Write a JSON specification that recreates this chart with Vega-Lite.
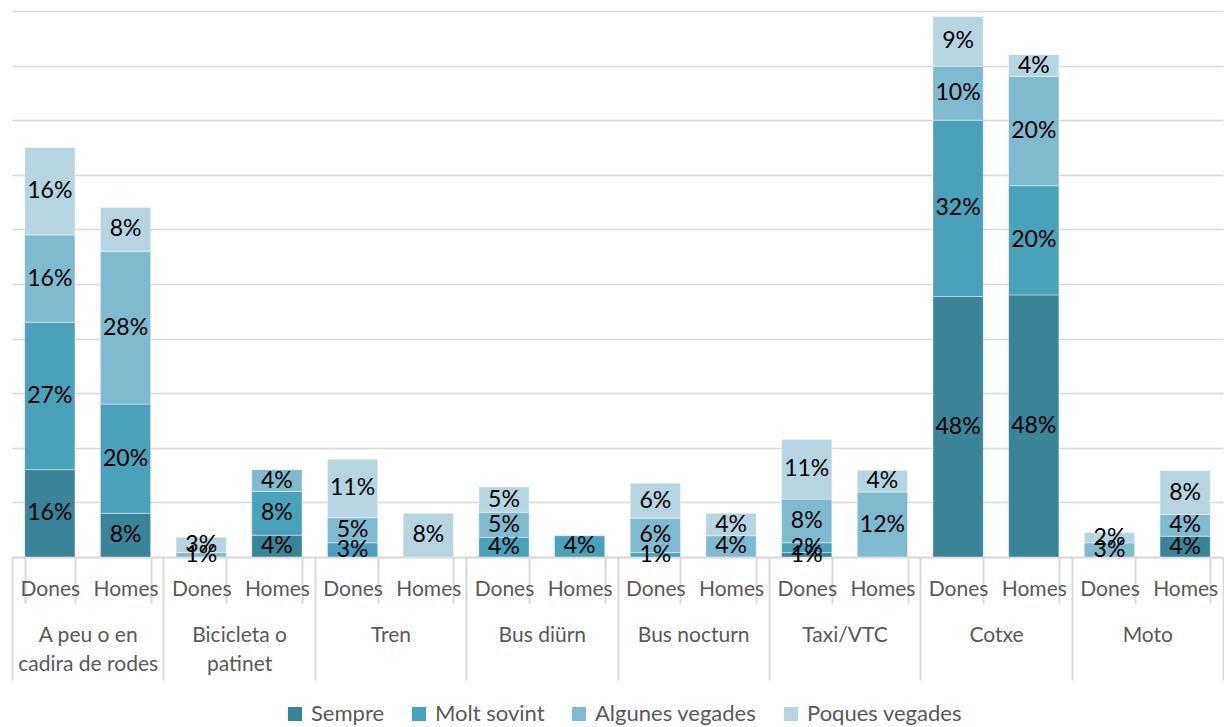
{
  "$schema": "https://vega.github.io/schema/vega-lite/v6.json",
  "width": 1211,
  "height": 546,
  "autosize": {"type": "none"},
  "padding": {"left": 12, "top": 11, "right": 1, "bottom": 170},
  "config": {"view": {"stroke": null}, "font": "Lato"},
  "data": {
    "values": [
      {"c": "A peu o en cadira de rodes", "g": "Dones", "s": "Sempre", "v": 0.16},
      {"c": "A peu o en cadira de rodes", "g": "Dones", "s": "Molt sovint", "v": 0.27},
      {"c": "A peu o en cadira de rodes", "g": "Dones", "s": "Algunes vegades", "v": 0.16},
      {"c": "A peu o en cadira de rodes", "g": "Dones", "s": "Poques vegades", "v": 0.16},
      {"c": "A peu o en cadira de rodes", "g": "Homes", "s": "Sempre", "v": 0.08},
      {"c": "A peu o en cadira de rodes", "g": "Homes", "s": "Molt sovint", "v": 0.20},
      {"c": "A peu o en cadira de rodes", "g": "Homes", "s": "Algunes vegades", "v": 0.28},
      {"c": "A peu o en cadira de rodes", "g": "Homes", "s": "Poques vegades", "v": 0.08},
      {"c": "Bicicleta o patinet", "g": "Dones", "s": "Algunes vegades", "v": 0.008},
      {"c": "Bicicleta o patinet", "g": "Dones", "s": "Poques vegades", "v": 0.028},
      {"c": "Bicicleta o patinet", "g": "Homes", "s": "Sempre", "v": 0.04},
      {"c": "Bicicleta o patinet", "g": "Homes", "s": "Molt sovint", "v": 0.08},
      {"c": "Bicicleta o patinet", "g": "Homes", "s": "Algunes vegades", "v": 0.04},
      {"c": "Tren", "g": "Dones", "s": "Molt sovint", "v": 0.026},
      {"c": "Tren", "g": "Dones", "s": "Algunes vegades", "v": 0.046},
      {"c": "Tren", "g": "Dones", "s": "Poques vegades", "v": 0.107},
      {"c": "Tren", "g": "Homes", "s": "Poques vegades", "v": 0.08},
      {"c": "Bus diürn", "g": "Dones", "s": "Molt sovint", "v": 0.036},
      {"c": "Bus diürn", "g": "Dones", "s": "Algunes vegades", "v": 0.046},
      {"c": "Bus diürn", "g": "Dones", "s": "Poques vegades", "v": 0.046},
      {"c": "Bus diürn", "g": "Homes", "s": "Molt sovint", "v": 0.039},
      {"c": "Bus nocturn", "g": "Dones", "s": "Molt sovint", "v": 0.008},
      {"c": "Bus nocturn", "g": "Dones", "s": "Algunes vegades", "v": 0.063},
      {"c": "Bus nocturn", "g": "Dones", "s": "Poques vegades", "v": 0.064},
      {"c": "Bus nocturn", "g": "Homes", "s": "Algunes vegades", "v": 0.039},
      {"c": "Bus nocturn", "g": "Homes", "s": "Poques vegades", "v": 0.041},
      {"c": "Taxi/VTC", "g": "Dones", "s": "Sempre", "v": 0.008},
      {"c": "Taxi/VTC", "g": "Dones", "s": "Molt sovint", "v": 0.018},
      {"c": "Taxi/VTC", "g": "Dones", "s": "Algunes vegades", "v": 0.08},
      {"c": "Taxi/VTC", "g": "Dones", "s": "Poques vegades", "v": 0.109},
      {"c": "Taxi/VTC", "g": "Homes", "s": "Algunes vegades", "v": 0.119},
      {"c": "Taxi/VTC", "g": "Homes", "s": "Poques vegades", "v": 0.04},
      {"c": "Cotxe", "g": "Dones", "s": "Sempre", "v": 0.477},
      {"c": "Cotxe", "g": "Dones", "s": "Molt sovint", "v": 0.323},
      {"c": "Cotxe", "g": "Dones", "s": "Algunes vegades", "v": 0.099},
      {"c": "Cotxe", "g": "Dones", "s": "Poques vegades", "v": 0.091},
      {"c": "Cotxe", "g": "Homes", "s": "Sempre", "v": 0.48},
      {"c": "Cotxe", "g": "Homes", "s": "Molt sovint", "v": 0.20},
      {"c": "Cotxe", "g": "Homes", "s": "Algunes vegades", "v": 0.20},
      {"c": "Cotxe", "g": "Homes", "s": "Poques vegades", "v": 0.04},
      {"c": "Moto", "g": "Dones", "s": "Algunes vegades", "v": 0.026},
      {"c": "Moto", "g": "Dones", "s": "Poques vegades", "v": 0.019},
      {"c": "Moto", "g": "Homes", "s": "Sempre", "v": 0.038},
      {"c": "Moto", "g": "Homes", "s": "Algunes vegades", "v": 0.04},
      {"c": "Moto", "g": "Homes", "s": "Poques vegades", "v": 0.08}
    ]
  },
  "transform": [
    {"calculate": "datum.c + '|' + datum.g", "as": "key"},
    {"calculate": "indexof(['Sempre','Molt sovint','Algunes vegades','Poques vegades'], datum.s)", "as": "o"},
    {"stack": "v", "groupby": ["key"], "sort": [{"field": "o", "order": "ascending"}], "as": ["y0", "y1"]},
    {"calculate": "(datum.y0 + datum.y1) / 2", "as": "mid"}
  ],
  "layer": [
    {
      "layer": [
        {
          "mark": {"type": "bar", "stroke": "#ffffff", "strokeWidth": 1, "strokeOpacity": 0.4},
          "encoding": {
            "x": {
              "field": "key", "type": "nominal", "sort": null,
              "scale": {"paddingInner": 0.336, "paddingOuter": 0.168},
              "axis": {
                "title": null, "orient": "bottom",
                "labelExpr": "split(datum.value, '|')[1]",
                "labelAngle": 0, "labelFontSize": 21, "labelColor": "#595959", "labelFont": "Lato",
                "labelPadding": -14, "labelBaseline": "middle",
                "tickBand": "extent", "tickSize": 46, "tickColor": "#D9D9D9", "tickWidth": 2,
                "domainColor": "#D9D9D9", "domainWidth": 2
              }
            },
            "y": {
              "field": "y0", "type": "quantitative",
              "scale": {"domain": [0, 1], "nice": false},
              "axis": {
                "title": null, "labels": false, "ticks": false, "domain": false,
                "grid": true, "gridColor": "#D9D9D9", "gridWidth": 1.5,
                "values": [0, 0.1, 0.2, 0.3, 0.4, 0.5, 0.6, 0.7, 0.8, 0.9, 1.0]
              }
            },
            "y2": {"field": "y1"},
            "color": {
              "field": "s", "type": "nominal",
              "scale": {
                "domain": ["Sempre", "Molt sovint", "Algunes vegades", "Poques vegades"],
                "range": ["#398597", "#4AA1BA", "#7FBBCF", "#B6D5E0"]
              },
              "legend": {
                "title": null, "orient": "none", "direction": "horizontal",
                "legendX": 272, "legendY": 692,
                "symbolType": "square", "symbolSize": 200, "symbolStrokeWidth": 0, "symbolOpacity": 1,
                "labelFontSize": 22, "labelColor": "#595959", "labelFont": "Lato", "labelLimit": 400,
                "columnPadding": 23, "labelOffset": 5
              }
            }
          }
        },
        {
          "mark": {"type": "text", "fontSize": 23, "color": "#000000", "font": "Lato"},
          "encoding": {
            "x": {"field": "key", "type": "nominal", "sort": null},
            "y": {"field": "mid", "type": "quantitative"},
            "text": {"field": "v", "type": "quantitative", "format": ".0%"}
          }
        }
      ]
    },
    {
      "mark": {"type": "rule", "opacity": 0},
      "encoding": {
        "x": {
          "field": "c", "type": "nominal", "sort": null,
          "scale": {"paddingInner": 0, "paddingOuter": 0},
          "axis": {
            "title": null, "orient": "bottom", "domain": false,
            "labelExpr": "datum.value == 'A peu o en cadira de rodes' ? ['A peu o en', 'cadira de rodes'] : datum.value == 'Bicicleta o patinet' ? ['Bicicleta o', 'patinet'] : datum.value",
            "labelAngle": 0, "labelBaseline": "top", "labelPadding": -56, "labelLineHeight": 29,
            "labelFontSize": 21, "labelColor": "#595959", "labelFont": "Lato",
            "tickBand": "extent", "tickSize": 123, "tickColor": "#D9D9D9", "tickWidth": 2
          }
        }
      }
    }
  ],
  "resolve": {"scale": {"x": "independent"}}
}
